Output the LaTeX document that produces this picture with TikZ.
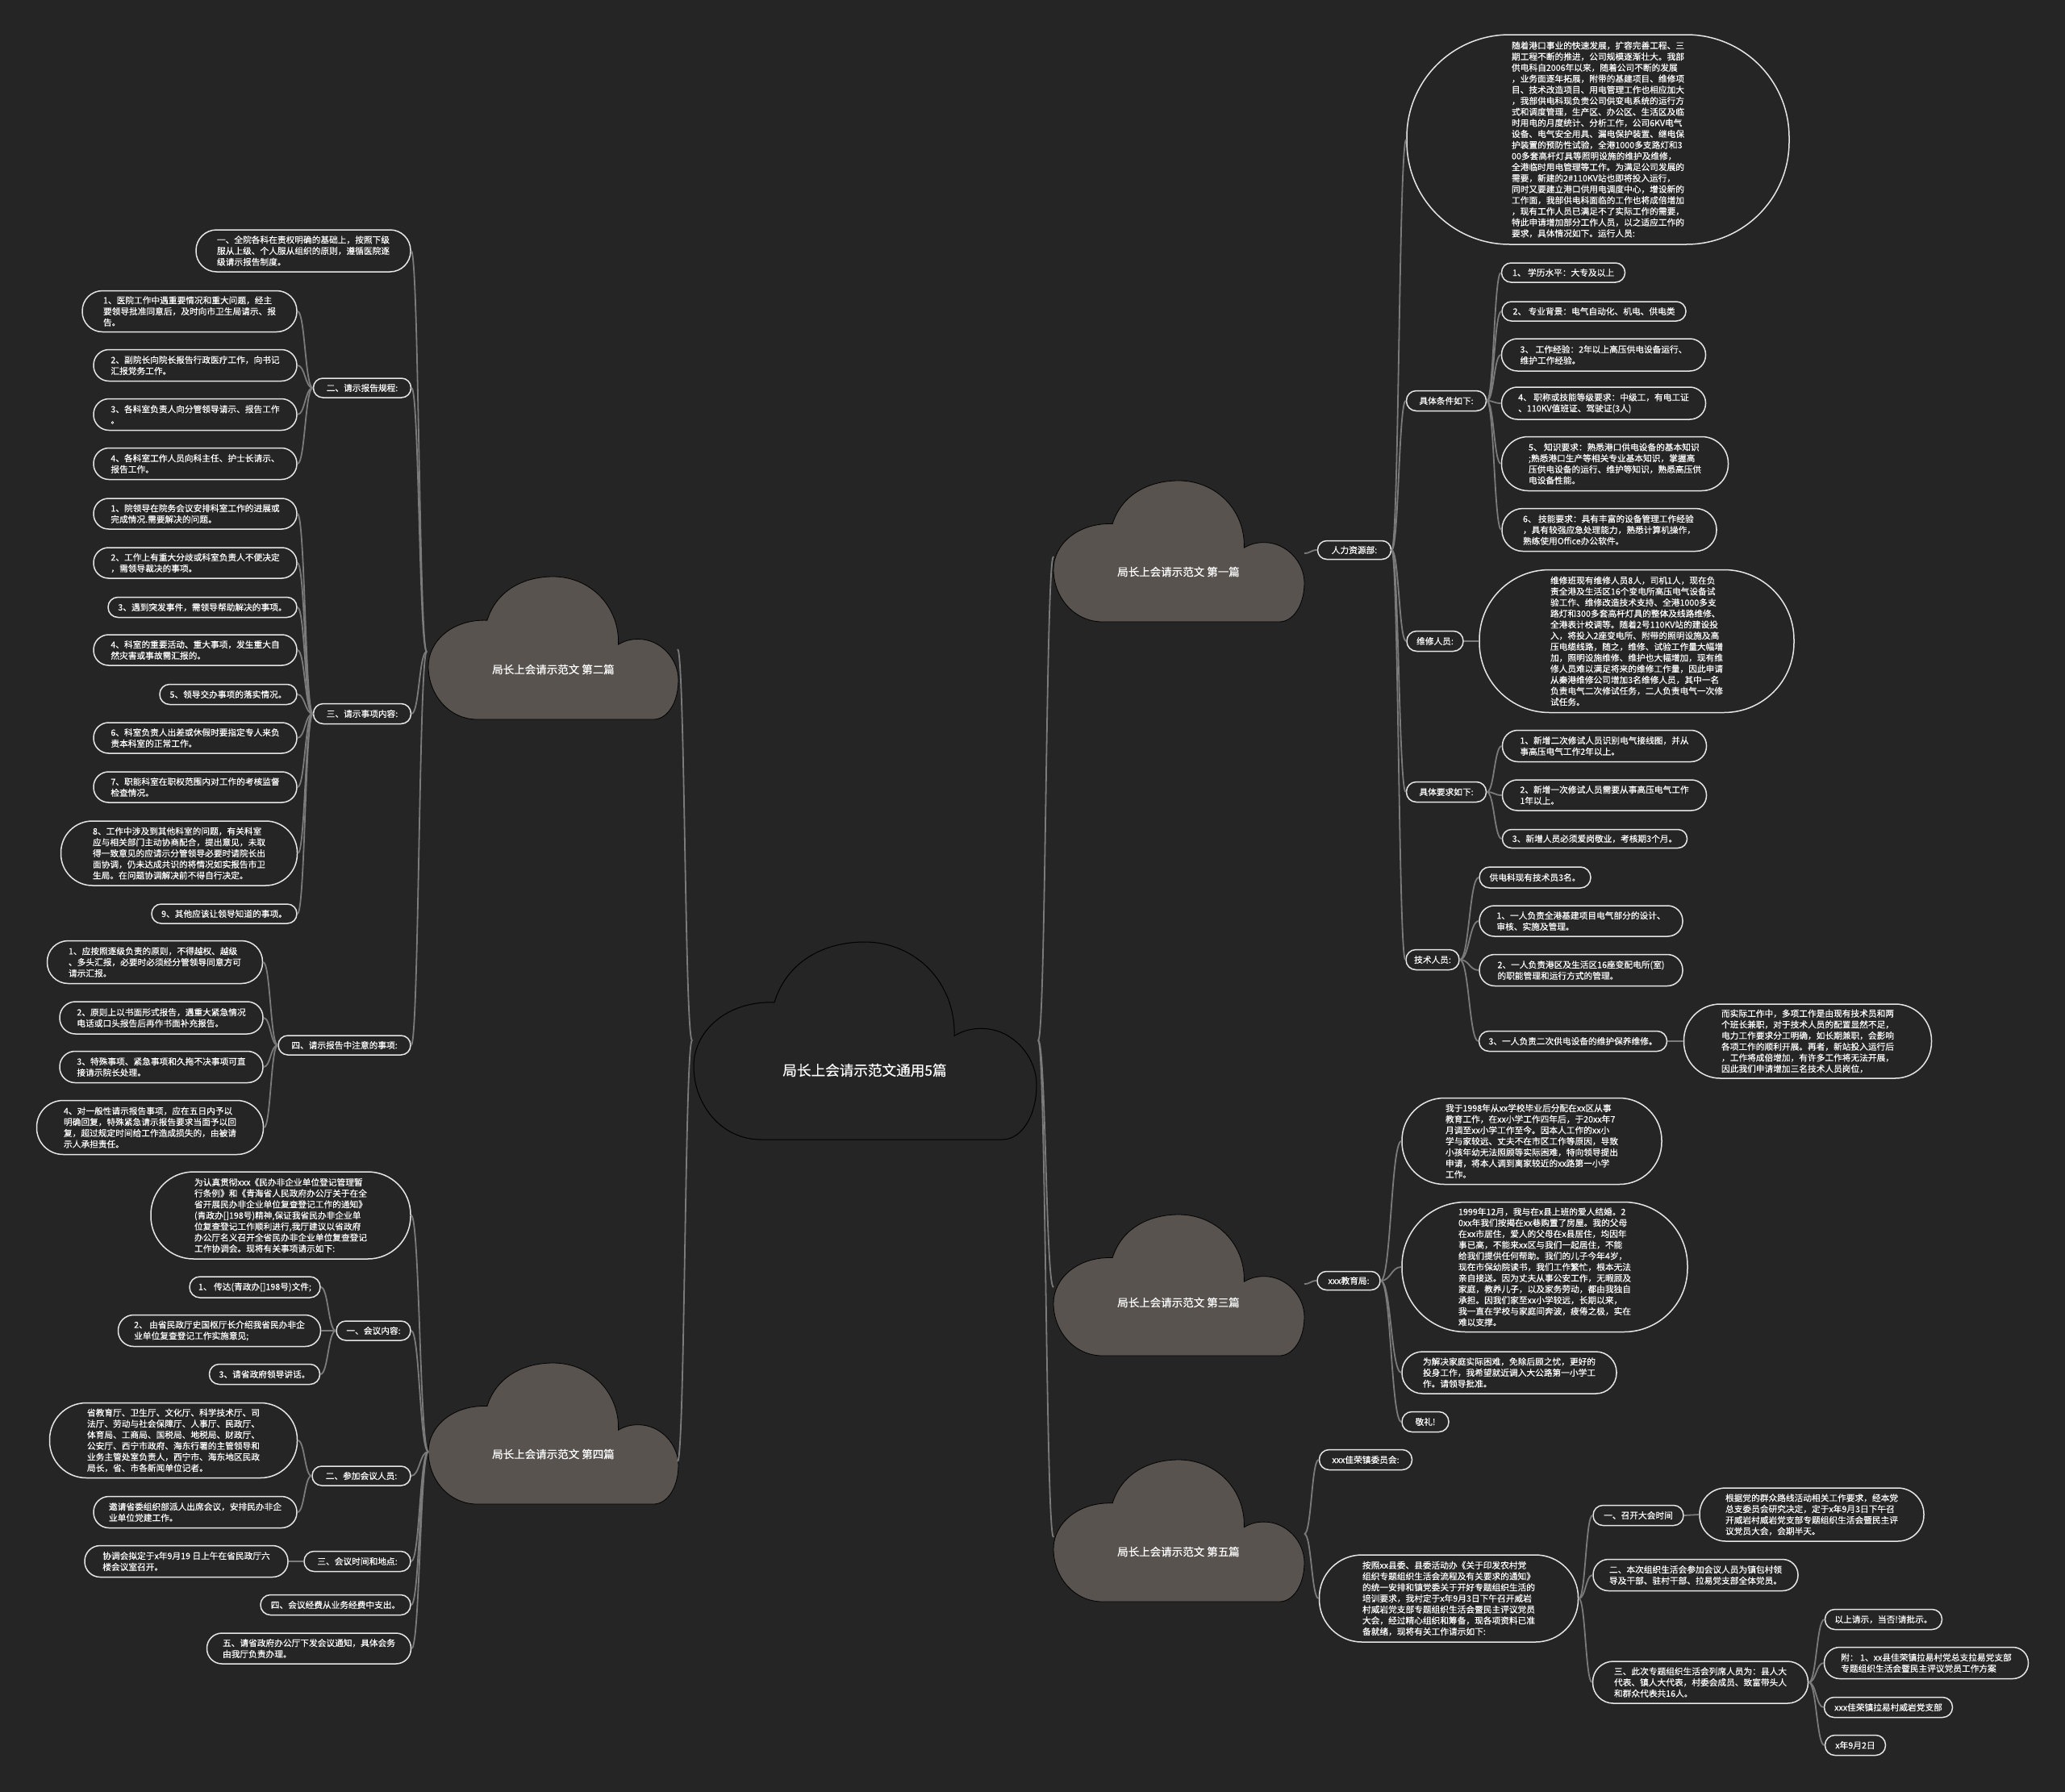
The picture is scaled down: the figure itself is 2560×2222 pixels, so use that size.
\documentclass[tikz,border=0pt]{standalone}
\usepackage{fontspec}
\setmainfont{Noto Sans CJK SC}[FakeBold=0.4]
\usetikzlibrary{calc}
\definecolor{bg}{HTML}{252525}
\definecolor{cloudfill}{HTML}{58534F}
\definecolor{connc}{HTML}{7B7B7B}
\definecolor{boxline}{HTML}{E6E6E6}
\tikzset{
  bx/.style={draw=boxline, line width=1.5pt, fill=bg, text=white, align=left, inner sep=2pt,
    font=\fontsize{10.7pt}{13.7pt}\selectfont},
  conn/.style={draw=connc, line width=1.8pt},
  cloudmain/.style={fill=bg, draw=black, line width=1pt},
  cloudsub/.style={fill=cloudfill, draw=black, line width=0.8pt},
  bigtitle/.style={text=white, font=\fontsize{17.6pt}{20pt}\selectfont},
  subtitle/.style={text=white, font=\fontsize{13.5pt}{16pt}\selectfont},
}
\newcommand\bx[6]{\node[bx, minimum width=#4pt, minimum height=#5pt, rounded corners=#5*0.49pt] (#1) at (#2,#3) {#6};}
\newcommand\conn[2]{\path (#1) -- (#2) coordinate[pos=0.5] (cmid); \draw[conn] (#1) .. controls (cmid |- #1) and (cmid |- #2) .. (#2);}
\newcommand\cloudshape[5]{%
 \begin{scope}[shift={(#1,#2)}, xscale=#3/425, yscale=#4/242]
 \draw[#5] (83,242) .. controls (35,242) and (0,200) .. (0,152) .. controls (0,110) and (40,72) .. (100,74) .. controls (115,25) and (160,0) .. (212,0) .. controls (275,0) and (325,50) .. (323,115) .. controls (335,108) and (345,106) .. (357,106) .. controls (395,106) and (425,140) .. (425,175) .. controls (425,215) and (405,242) .. (383,242) -- cycle;
 \end{scope}}
\begin{document}
\begin{tikzpicture}[x=1pt,y=-1pt]
\fill[bg] (0,0) rectangle (2560,2222);
\useasboundingbox (0,0) rectangle (2560,2222);

% clouds
\cloudshape{860}{1168}{425}{245}{cloudmain}
\node[bigtitle] (root) at (1072,1327) {局长上会请示范文通用5篇};
\cloudshape{1306}{596}{311}{175}{cloudsub}
\node[subtitle] (p1) at (1461,709) {局长上会请示范文 第一篇};
\cloudshape{531}{715}{310}{177}{cloudsub}
\node[subtitle] (p2) at (686,830) {局长上会请示范文 第二篇};
\cloudshape{1306}{1506}{311}{175}{cloudsub}
\node[subtitle] (p3) at (1461,1615) {局长上会请示范文 第三篇};
\cloudshape{531}{1690}{310}{175}{cloudsub}
\node[subtitle] (p4) at (686,1803) {局长上会请示范文 第四篇};
\cloudshape{1306}{1810}{311}{176}{cloudsub}
\node[subtitle] (p5) at (1461,1924) {局长上会请示范文 第五篇};

\coordinate (cL) at (858,1290);
\coordinate (cR) at (1287,1290);
\coordinate (c1w) at (1306,690);
\coordinate (c1e) at (1617,686);
\coordinate (c2e) at (840,805);
\coordinate (c2w) at (529,808);
\coordinate (c3w) at (1306,1596);
\coordinate (c3e) at (1617,1592);
\coordinate (c4e) at (840,1812);
\coordinate (c4w) at (531,1800);
\coordinate (c5w) at (1306,1906);
\coordinate (c5e) at (1617,1902);

% ---------- 第一篇 ----------
\bx{hr}{1679}{682}{91}{23}{人力资源部:}
\bx{e1}{1981}{173}{474}{260}{随着港口事业的快速发展，扩容完善工程、三\\期工程不断的推进，公司规模逐渐壮大。我部\\供电科自2006年以来，随着公司不断的发展\\，业务面逐年拓展，附带的基建项目、维修项\\目、技术改造项目、用电管理工作也相应加大\\，我部供电科现负责公司供变电系统的运行方\\式和调度管理，生产区、办公区、生活区及临\\时用电的月度统计、分析工作，公司6KV电气\\设备、电气安全用具、漏电保护装置、继电保\\护装置的预防性试验，全港1000多支路灯和3\\00多套高杆灯具等照明设施的维护及维修，\\全港临时用电管理等工作。为满足公司发展的\\需要，新建的2\#110KV站也即将投入运行，\\同时又要建立港口供用电调度中心，增设新的\\工作面，我部供电科面临的工作也将成倍增加\\，现有工作人员已满足不了实际工作的需要，\\特此申请增加部分工作人员，以之适应工作的\\要求，具体情况如下。运行人员:}
\bx{jt}{1793}{497}{99}{25}{具体条件如下:}
\bx{r1}{1938}{338}{153}{24}{1、 学历水平：大专及以上}
\bx{r2}{1976}{386}{228}{24}{2、 专业背景：电气自动化、机电、供电类}
\bx{r3}{1988}{440}{253}{40}{3、 工作经验：2年以上高压供电设备运行、\\维护工作经验。}
\bx{r4}{1988}{500}{253}{40}{4、 职称或技能等级要求：中级工，有电工证\\、110KV值班证、驾驶证(3人)}
\bx{r5}{2002}{575}{281}{67}{5、 知识要求：熟悉港口供电设备的基本知识\\;熟悉港口生产等相关专业基本知识，掌握高\\压供电设备的运行、维护等知识，熟悉高压供\\电设备性能。}
\bx{r6}{1995}{657}{266}{53}{6、 技能要求：具有丰富的设备管理工作经验\\，具有较强应急处理能力，熟悉计算机操作，\\熟练使用Office办公软件。}
\bx{wx}{1779}{795}{70}{25}{维修人员:}
\bx{wxe}{2029}{795}{390}{177}{维修班现有维修人员8人，司机1人，现在负\\责全港及生活区16个变电所高压电气设备试\\验工作、维修改造技术支持、全港1000多支\\路灯和300多套高杆灯具的整体及线路维修、\\全港表计校调等。随着2号110KV站的建设投\\入，将投入2座变电所、附带的照明设施及高\\压电缆线路，随之，维修、试验工作量大幅增\\加，照明设施维修、维护也大幅增加，现有维\\修人员难以满足将来的维修工作量，因此申请\\从秦港维修公司增加3名维修人员，其中一名\\负责电气二次修试任务，二人负责电气一次修\\试任务。}
\bx{yq}{1793}{982}{99}{25}{具体要求如下:}
\bx{q1}{1989}{925}{253}{39}{1、新增二次修试人员识别电气接线图，并从\\事高压电气工作2年以上。}
\bx{q2}{1989}{986}{253}{38}{2、新增一次修试人员需要从事高压电气工作\\1年以上。}
\bx{q3}{1977}{1040}{229}{23}{3、新增人员必须爱岗敬业，考核期3个月。}
\bx{js}{1776}{1190}{66}{25}{技术人员:}
\bx{t0}{1903}{1088}{138}{26}{供电科现有技术员3名。}
\bx{t1}{1960}{1142}{252}{38}{1、一人负责全港基建项目电气部分的设计、\\审核、实施及管理。}
\bx{t2}{1960}{1203}{252}{39}{2、一人负责港区及生活区16座变配电所(室)\\的职能管理和运行方式的管理。}
\bx{t3}{1950}{1291}{233}{25}{3、一人负责二次供电设备的维护保养维修。}
\bx{t4}{2241}{1291}{307}{92}{而实际工作中，多项工作是由现有技术员和两\\个班长兼职，对于技术人员的配置显然不足，\\电力工作要求分工明确，如长期兼职，会影响\\各项工作的顺利开展。再者，新站投入运行后\\，工作将成倍增加，有许多工作将无法开展，\\因此我们申请增加三名技术人员岗位，}

% ---------- 第三篇 ----------
\bx{jy}{1672}{1588}{78}{23}{xxx教育局:}
\bx{a1}{1899}{1415}{322}{107}{我于1998年从xx学校毕业后分配在xx区从事\\教育工作，在xx小学工作四年后，于20xx年7\\月调至xx小学工作至今。因本人工作的xx小\\学与家较远、丈夫不在市区工作等原因，导致\\小孩年幼无法照顾等实际困难，特向领导提出\\申请，将本人调到离家较近的xx路第一小学\\工作。}
\bx{a2}{1915}{1571}{354}{161}{1999年12月，我与在x县上班的爱人结婚。2\\0xx年我们按揭在xx巷购置了房屋。我的父母\\在xx市居住，爱人的父母在x县居住，均因年\\事已高，不能来xx区与我们一起居住，不能\\给我们提供任何帮助。我们的儿子今年4岁，\\现在市保幼院读书，我们工作繁忙，根本无法\\亲自接送。因为丈夫从事公安工作，无暇顾及\\家庭，教养儿子，以及家务劳动，都由我独自\\承担。因我们家至xx小学较远，长期以来，\\我一直在学校与家庭间奔波，疲倦之极，实在\\难以支撑。}
\bx{a3}{1871}{1702}{266}{52}{为解决家庭实际困难，免除后顾之忧，更好的\\投身工作，我希望就近调入大公路第一小学工\\作。请领导批准。}
\bx{a4}{1767}{1763}{58}{25}{敬礼!}

% ---------- 第五篇 ----------
\bx{w0}{1693}{1810}{115}{25}{xxx佳荣镇委员会:}
\bx{w1}{1796}{1982}{321}{108}{按照xx县委、县委活动办《关于印发农村党\\组织专题组织生活会流程及有关要求的通知》\\的统一安排和镇党委关于开好专题组织生活的\\培训要求，我村定于x年9月3日下午召开威岩\\村威岩党支部专题组织生活会暨民主评议党员\\大会，经过精心组织和筹备，现各项资料已准\\备就绪，现将有关工作请示如下:}
\bx{w2}{2031}{1879}{112}{25}{一、召开大会时间}
\bx{w3}{2246}{1878}{278}{66}{根据党的群众路线活动相关工作要求，经本党\\总支委员会研究决定，定于x年9月3日下午召\\开威岩村威岩党支部专题组织生活会暨民主评\\议党员大会，会期半天。}
\bx{w4}{2102}{1953}{254}{39}{二、本次组织生活会参加会议人员为镇包村领\\导及干部、驻村干部、拉易党支部全体党员。}
\bx{w5}{2108}{2086}{267}{52}{三、此次专题组织生活会列席人员为：县人大\\代表、镇人大代表，村委会成员、致富带头人\\和群众代表共16人。}
\bx{w6}{2335}{2008}{145}{25}{以上请示，当否!请批示。}
\bx{w7}{2388}{2062}{253}{39}{附： 1、xx县佳荣镇拉易村党总支拉易党支部\\专题组织生活会暨民主评议党员工作方案}
\bx{w8}{2341}{2117}{159}{25}{xxx佳荣镇拉易村威岩党支部}
\bx{w9}{2300}{2164}{75}{25}{x年9月2日}

% ---------- 第二篇 ----------
\bx{L0}{376}{311}{266}{52}{一、全院各科在责权明确的基础上，按照下级\\服从上级、个人服从组织的原则，遵循医院逐\\级请示报告制度。}
\bx{L1}{449}{481}{121}{24}{二、请示报告规程:}
\bx{L11}{235}{386}{266}{51}{1、医院工作中遇重要情况和重大问题，经主\\要领导批准同意后，及时向市卫生局请示、报\\告。}
\bx{L12}{242}{453}{252}{39}{2、副院长向院长报告行政医疗工作，向书记\\汇报党务工作。}
\bx{L13}{242}{514}{252}{39}{3、各科室负责人向分管领导请示、报告工作\\。}
\bx{L14}{242}{575}{252}{39}{4、各科室工作人员向科主任、护士长请示、\\报告工作。}
\bx{L2}{449}{885}{121}{25}{三、请示事项内容:}
\bx{L21}{242}{637}{252}{38}{1、院领导在院务会议安排科室工作的进展或\\完成情况.需要解决的问题。}
\bx{L22}{242}{698}{252}{38}{2、工作上有重大分歧或科室负责人不便决定\\，需领导裁决的事项。}
\bx{L23}{251}{753}{234}{25}{3、遇到突发事件，需领导帮助解决的事项。}
\bx{L24}{242}{806}{252}{38}{4、科室的重要活动、重大事项，发生重大自\\然灾害或事故需汇报的。}
\bx{L25}{283}{861}{170}{25}{5、领导交办事项的落实情况。}
\bx{L26}{242}{915}{252}{38}{6、科室负责人出差或休假时要指定专人来负\\责本科室的正常工作。}
\bx{L27}{242}{976}{252}{38}{7、职能科室在职权范围内对工作的考核监督\\检查情况。}
\bx{L28}{222}{1058}{293}{80}{8、工作中涉及到其他科室的问题，有关科室\\应与相关部门主动协商配合，提出意见，未取\\得一致意见的应请示分管领导必要时请院长出\\面协调，仍未达成共识的将情况如实报告市卫\\生局。在问题协调解决前不得自行决定。}
\bx{L29}{278}{1133}{180}{24}{9、其他应该让领导知道的事项。}
\bx{L3}{427}{1296}{164}{24}{四、请示报告中注意的事项:}
\bx{L31}{192}{1193}{267}{53}{1、应按照逐级负责的原则，不得越权、越级\\、多头汇报，必要时必须经分管领导同意方可\\请示汇报。}
\bx{L32}{200}{1262}{252}{40}{2、原则上以书面形式报告，遇重大紧急情况\\电话或口头报告后再作书面补充报告。}
\bx{L33}{200}{1323}{252}{39}{3、特殊事项、紧急事项和久拖不决事项可直\\接请示院长处理。}
\bx{L34}{186}{1398}{281}{67}{4、对一般性请示报告事项，应在五日内予以\\明确回复，特殊紧急请示报告要求当面予以回\\复，超过规定时间给工作造成损失的，由被请\\示人承担责任。}

% ---------- 第四篇 ----------
\bx{F0}{348}{1507}{322}{108}{为认真贯彻xxx《民办非企业单位登记管理暂\\行条例》和《青海省人民政府办公厅关于在全\\省开展民办非企业单位复查登记工作的通知》\\(青政办[]198号)精神,保证我省民办非企业单\\位复查登记工作顺利进行,我厅建议以省政府\\办公厅名义召开全省民办非企业单位复查登记\\工作协调会。现将有关事项请示如下:}
\bx{F1}{463}{1650}{92}{24}{一、会议内容:}
\bx{F11}{316}{1596}{162}{26}{1、 传达(青政办[]198号)文件;}
\bx{F12}{272}{1650}{251}{39}{2、 由省民政厅史国枢厅长介绍我省民办非企\\业单位复查登记工作实施意见;}
\bx{F13}{328}{1704}{137}{25}{3、请省政府领导讲话。}
\bx{F2}{448}{1830}{122}{24}{二、参加会议人员:}
\bx{F21}{215}{1786}{307}{93}{省教育厅、卫生厅、文化厅、科学技术厅、司\\法厅、劳动与社会保障厅、人事厅、民政厅、\\体育局、工商局、国税局、地税局、财政厅、\\公安厅、西宁市政府、海东行署的主管领导和\\业务主管处室负责人，西宁市、海东地区民政\\局长，省、市各新闻单位记者。}
\bx{F22}{242}{1875}{252}{39}{邀请省委组织部派人出席会议，安排民办非企\\业单位党建工作。}
\bx{F3}{443}{1936}{132}{25}{三、会议时间和地点:}
\bx{F31}{231}{1936}{252}{39}{协调会拟定于x年9月19 日上午在省民政厅六\\楼会议室召开。}
\bx{F4}{416}{1990}{186}{25}{四、会议经费从业务经费中支出。}
\bx{F5}{383}{2044}{253}{38}{五、请省政府办公厅下发会议通知，具体会务\\由我厅负责办理。}

% ---------- connectors ----------
\conn{cL}{c2e}
\conn{cL}{c4e}
\conn{cR}{c1w}
\conn{cR}{c3w}
\conn{cR}{c5w}

\conn{c1e}{hr.west}
\conn{hr.east}{e1.west}
\conn{hr.east}{jt.west}
\conn{hr.east}{wx.west}
\conn{hr.east}{yq.west}
\conn{hr.east}{js.west}
\conn{jt.east}{r1.west}
\conn{jt.east}{r2.west}
\conn{jt.east}{r3.west}
\conn{jt.east}{r4.west}
\conn{jt.east}{r5.west}
\conn{jt.east}{r6.west}
\conn{wx.east}{wxe.west}
\conn{yq.east}{q1.west}
\conn{yq.east}{q2.west}
\conn{yq.east}{q3.west}
\conn{js.east}{t0.west}
\conn{js.east}{t1.west}
\conn{js.east}{t2.west}
\conn{js.east}{t3.west}
\conn{t3.east}{t4.west}

\conn{c3e}{jy.west}
\conn{jy.east}{a1.west}
\conn{jy.east}{a2.west}
\conn{jy.east}{a3.west}
\conn{jy.east}{a4.west}

\conn{c5e}{w0.west}
\conn{c5e}{w1.west}
\conn{w1.east}{w2.west}
\conn{w1.east}{w4.west}
\conn{w1.east}{w5.west}
\conn{w2.east}{w3.west}
\conn{w5.east}{w6.west}
\conn{w5.east}{w7.west}
\conn{w5.east}{w8.west}
\conn{w5.east}{w9.west}

\conn{c2w}{L0.east}
\conn{c2w}{L1.east}
\conn{c2w}{L2.east}
\conn{c2w}{L3.east}
\conn{L1.west}{L11.east}
\conn{L1.west}{L12.east}
\conn{L1.west}{L13.east}
\conn{L1.west}{L14.east}
\conn{L2.west}{L21.east}
\conn{L2.west}{L22.east}
\conn{L2.west}{L23.east}
\conn{L2.west}{L24.east}
\conn{L2.west}{L25.east}
\conn{L2.west}{L26.east}
\conn{L2.west}{L27.east}
\conn{L2.west}{L28.east}
\conn{L2.west}{L29.east}
\conn{L3.west}{L31.east}
\conn{L3.west}{L32.east}
\conn{L3.west}{L33.east}
\conn{L3.west}{L34.east}

\conn{c4w}{F0.east}
\conn{c4w}{F1.east}
\conn{c4w}{F2.east}
\conn{c4w}{F3.east}
\conn{c4w}{F4.east}
\conn{c4w}{F5.east}
\conn{F1.west}{F11.east}
\conn{F1.west}{F12.east}
\conn{F1.west}{F13.east}
\conn{F2.west}{F21.east}
\conn{F2.west}{F22.east}
\conn{F3.west}{F31.east}
\end{tikzpicture}
\end{document}
